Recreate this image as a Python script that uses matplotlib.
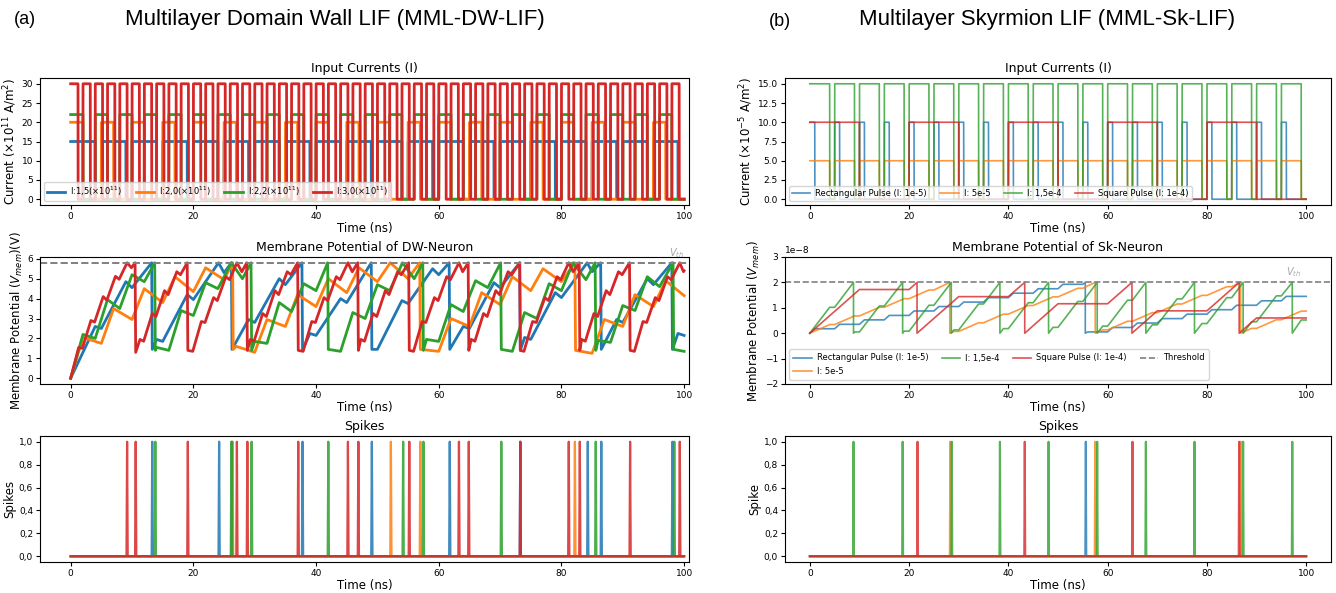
import numpy as np
import matplotlib
matplotlib.use('Agg')
import matplotlib.pyplot as plt
from matplotlib.ticker import FuncFormatter

plt.rcParams['font.family'] = 'DejaVu Sans'

colors = ['#1f77b4', '#ff7f0e', '#2ca02c', '#d62728']

# ---------------- (a) domain wall LIF ----------------
# input square pulses: level (x1e11 A/m2), period (ns), on-width (ns)
dw_labels = ['I:1,5(×10$^{11}$)', 'I:2,0(×10$^{11}$)', 'I:2,2(×10$^{11}$)', 'I:3,0(×10$^{11}$)']
dw_levels = [15, 20, 22, 30]
dw_periods = [5, 5, 4, 2]
dw_widths = [4, 2, 2, 1.2]

# membrane potential vertices (ns, V)
dw_blue_t = [0, 4, 5, 9, 10, 13.2, 13.3, 14, 15, 19, 20, 24.1, 25, 26.2, 26.3, 29, 30, 34, 35, 37.7, 37.8,
             39, 40, 44, 45, 49, 49.1, 50, 54, 55, 59, 60, 61.7, 61.8, 64, 65, 69, 70, 73.2, 73.3, 74, 75,
             79, 80, 84.2, 85, 86.4, 86.5, 89, 90, 94, 95, 98, 98.1, 99, 100]
dw_blue_v = [0, 2.6, 2.5, 4.85, 4.55, 5.8, 1.45, 1.95, 1.85, 4.2, 3.95, 5.8, 5.3, 5.8, 1.45, 2.95, 2.8, 5.0, 4.7, 5.8, 1.4,
             2.25, 2.15, 4.0, 3.8, 5.8, 1.45, 1.45, 3.9, 3.75, 5.5, 5.2, 5.8, 1.45, 2.6, 2.5, 4.8, 4.55, 5.8, 1.4, 2.05, 1.95,
             4.3, 4.05, 5.8, 5.35, 5.8, 1.45, 2.95, 2.8, 5.0, 4.7, 5.8, 1.45, 2.25, 2.15]
dw_orange_t = [0, 2, 5, 7, 10, 12, 15, 17, 20, 22, 25, 26.4, 26.5, 27, 30, 32, 35, 37, 40, 42, 45, 47, 50, 52.1,
               55, 56.9, 57.0, 60, 62, 65, 67, 70, 72, 75, 77, 80, 82.2, 82.3, 85, 87, 90, 92, 95, 97, 100]
dw_orange_v = [0, 2.05, 1.75, 3.5, 2.95, 4.5, 3.8, 5.1, 4.35, 5.55, 4.95, 5.8, 1.45, 1.6, 1.3, 2.95, 2.6, 4.2, 3.6, 5.0,
               4.3, 5.55, 4.85, 5.8, 5.0, 5.8, 1.45, 1.35, 3.0, 2.6, 4.3, 3.7, 5.1, 4.4, 5.5, 4.85, 5.8, 1.4, 1.25,
               2.95, 2.6, 4.2, 3.6, 4.9, 4.15]
dw_green_t = [0, 2, 4, 6, 8, 10, 12, 13.7, 13.8, 14, 16, 18, 20, 22, 24, 26.2, 28, 29.4, 29.5, 30, 32, 34, 36, 38,
              40, 41.9, 42, 44, 46, 48, 50, 52, 54.1, 56, 57.4, 57.5, 58, 60, 62, 64, 66, 68, 70.1, 70.2, 72, 74,
              76, 78, 80, 81.9, 84, 85.5, 85.6, 86, 88, 90, 92, 94, 96, 98.2, 98.3, 100]
dw_green_v = [0, 2.2, 2.0, 3.95, 3.5, 5.2, 4.85, 5.8, 1.4, 1.55, 1.4, 3.4, 3.15, 4.8, 4.5, 5.8, 5.0, 5.8, 1.4, 1.85,
              1.75, 3.8, 3.35, 4.75, 4.4, 5.8, 1.45, 1.35, 3.3, 3.0, 4.7, 4.4, 5.8, 5.0, 5.8, 1.4, 1.95, 1.85, 3.7,
              3.35, 4.9, 4.55, 5.8, 1.45, 1.35, 3.3, 3.0, 4.75, 4.4, 5.8, 4.95, 5.8, 1.4, 1.9, 1.8, 3.65, 3.4, 5.1,
              4.6, 5.8, 1.45, 1.35]
dw_red_t = [0, 1.3, 1.9, 3.3, 3.9, 5.3, 5.9, 7.3, 7.9, 9.2, 9.9, 10.5, 10.6,
            11.3, 11.9, 13.3, 13.9, 15.3, 15.9, 17.3, 17.9, 19.0, 19.1,
            19.9, 21.3, 21.9, 23.3, 23.9, 25.3, 25.9, 27.1, 27.9, 28.7, 28.8,
            29.3, 29.9, 31.3, 31.9, 33.3, 33.9, 35.3, 35.9, 37.0, 37.1,
            37.9, 39.3, 39.9, 41.3, 41.9, 43.3, 43.9, 45.2, 45.9, 46.8, 46.9,
            47.3, 47.9, 49.3, 49.9, 51.3, 51.9, 53.3, 53.9, 55.1, 55.2,
            55.9, 57.3, 57.9, 59.3, 59.9, 61.3, 61.9, 63.3, 63.9, 64.8, 64.9,
            65.3, 65.9, 67.3, 67.9, 69.3, 69.9, 71.3, 71.9, 73.2, 73.3,
            73.9, 75.3, 75.9, 77.3, 77.9, 79.3, 79.9, 81.2, 81.9, 82.9, 83.0,
            83.3, 83.9, 85.3, 85.9, 87.3, 87.9, 89.3, 89.9, 91.1, 91.2,
            91.9, 93.3, 93.9, 95.3, 95.9, 97.3, 97.9, 99.3, 99.9, 100]
dw_red_v = [0, 1.55, 1.5, 2.9, 2.82, 4.1, 3.92, 5.12, 4.97, 5.8, 5.55, 5.8, 1.3,
            1.95, 1.86, 3.25, 3.1, 4.4, 4.2, 5.35, 5.2, 5.8, 1.4,
            1.35, 2.85, 2.8, 4.05, 3.9, 5.1, 4.95, 5.8, 5.35, 5.8, 1.4,
            1.95, 1.86, 3.25, 3.1, 4.4, 4.2, 5.35, 5.2, 5.8, 1.4,
            1.35, 2.85, 2.8, 4.05, 3.9, 5.1, 4.95, 5.8, 5.35, 5.8, 1.4,
            1.95, 1.86, 3.25, 3.1, 4.4, 4.2, 5.35, 5.2, 5.8, 1.4,
            1.35, 2.85, 2.8, 4.05, 3.9, 5.1, 4.95, 5.8, 5.35, 5.8, 1.4,
            1.95, 1.86, 3.25, 3.1, 4.4, 4.2, 5.35, 5.2, 5.8, 1.4,
            1.35, 2.85, 2.8, 4.05, 3.9, 5.1, 4.95, 5.8, 5.35, 5.8, 1.4,
            1.95, 1.86, 3.25, 3.1, 4.4, 4.2, 5.35, 5.2, 5.8, 1.4,
            1.35, 2.85, 2.8, 4.05, 3.9, 5.1, 4.95, 5.8, 5.35, 5.4]
dw_vth = 5.8

# spike times (ns)
dw_spk_blue = [13.3, 24.2, 26.3, 37.8, 49.1, 61.8, 73.3, 84.3, 86.5, 98.1]
dw_spk_orange = [26.4, 52.2, 57.0, 82.2]
dw_spk_green = [13.8, 26.2, 29.5, 42.0, 54.2, 57.5, 70.2, 85.6, 98.4]
dw_spk_red = [9.2, 10.6, 19.1, 27.1, 28.8, 37.1, 45.2, 46.9, 55.2, 63.3, 64.9, 73.3, 81.2, 83.0, 91.2, 99.3]

# ---------------- (b) skyrmion LIF ----------------
sk_labels = ['Rectangular Pulse (I: 1e-5)', 'I: 5e-5', 'I: 1,5e-4', 'Square Pulse (I: 1e-4)']
sk_levels = [10, 5, 15, 10]
sk_periods = [5, 5, 5, 20]
sk_widths = [1, 4, 4, 10]

sk_blue_t = [0, 1, 5, 6, 10, 11, 15, 16, 20, 21, 25, 26, 30, 31, 35, 36, 40, 41, 45, 46, 50, 51, 55, 55.5, 55.5,
             56, 60, 61, 65, 66, 70, 71, 75, 76, 80, 81, 85, 86, 90, 91, 95, 96, 100]
sk_blue_v = [0, .175, .175, .35, .35, .525, .525, .70, .70, .875, .875, 1.05, 1.05, 1.225, 1.225, 1.40, 1.40, 1.575,
             1.575, 1.75, 1.75, 1.925, 1.925, 2.0, 0.0, 0.05, 0.05, 0.225, 0.225, 0.40, 0.40, 0.575, 0.575, 0.75,
             0.75, 0.925, 0.925, 1.10, 1.10, 1.275, 1.275, 1.45, 1.45]
sk_orange_t = [0, 4, 5, 9, 10, 14, 15, 19, 20, 24, 25, 28.2, 28.2, 29, 30, 34, 35, 39, 40, 44, 45, 49, 50, 54, 55,
               57.5, 57.5, 59, 60, 64, 65, 69, 70, 74, 75, 79, 80, 84, 85, 86.8, 86.8, 89, 90, 94, 95, 99, 100]
sk_orange_v = [0, .34, .34, .68, .68, 1.02, 1.02, 1.36, 1.36, 1.70, 1.70, 2.0, 0.0, 0.07, 0.07, 0.41, 0.41, 0.75,
               0.75, 1.09, 1.09, 1.43, 1.43, 1.77, 1.77, 2.0, 0.0, 0.13, 0.13, 0.47, 0.47, 0.81, 0.81, 1.15, 1.15,
               1.49, 1.49, 1.83, 1.83, 2.0, 0.0, 0.19, 0.19, 0.53, 0.53, 0.87, 0.87]
sk_green_t = [0, 4, 5, 8.8, 8.8, 9, 10, 14, 15, 18.7, 18.7, 19, 20, 24, 25, 28.5, 28.5, 29, 30, 34, 35, 38.3, 38.3,
              39, 40, 44, 45, 48.1, 48.1, 49, 50, 54, 55, 57.9, 57.9, 59, 60, 64, 65, 67.7, 67.7, 69, 70, 74, 75,
              77.5, 77.5, 79, 80, 84, 85, 87.3, 87.3, 89, 90, 94, 95, 97.2, 97.2, 99, 100]
sk_green_v = [0, 1.02, 1.02, 2.0, 0, 0.05, 0.05, 1.07, 1.07, 2.0, 0, 0.08, 0.08, 1.10, 1.10, 2.0, 0, 0.13, 0.13,
              1.15, 1.15, 2.0, 0, 0.18, 0.18, 1.20, 1.20, 2.0, 0, 0.23, 0.23, 1.25, 1.25, 2.0, 0, 0.28, 0.28, 1.30,
              1.30, 2.0, 0, 0.33, 0.33, 1.35, 1.35, 2.0, 0, 0.38, 0.38, 1.40, 1.40, 2.0, 0, 0.45, 0.45, 1.47, 1.47,
              2.0, 0, 0.52, 0.52]
sk_red_t = [0, 10, 20, 21.6, 21.6, 30, 40, 43.3, 43.3, 50, 60, 64.9, 64.9, 70, 80, 86.5, 86.5, 90, 100]
sk_red_v = [0, 1.72, 1.72, 2.0, 0, 1.44, 1.44, 2.0, 0, 1.16, 1.16, 2.0, 0, 0.88, 0.88, 2.0, 0, 0.60, 0.60]
sk_vth = 2.0

sk_spk_blue = [55.6]
sk_spk_orange = [28.3, 57.5, 86.8]
sk_spk_green = [8.8, 18.7, 28.6, 38.3, 48.1, 57.9, 67.7, 77.5, 87.3, 97.2]
sk_spk_red = [21.7, 43.3, 65.0, 86.5]

# ---------------- helpers ----------------
t_in = np.linspace(0, 100, 20001)
t_spk = np.arange(0, 1001) * 0.1


def pulses(level, period, width):
    on = ((t_in % period) < width - 1e-9) & (t_in < 100 - 1e-9)
    return np.where(on, level, 0.0)


def spikes(times):
    y = np.zeros_like(t_spk)
    y[np.round(np.array(times) * 10).astype(int)] = 1.0
    return y


comma = FuncFormatter(lambda v, p: f'{v:.1f}'.replace('.', ','))

W, H = 1336, 593
fig = plt.figure(figsize=(W / 100, H / 100), dpi=100)


def rect(x0, x1, ytop, ybot):
    return [x0 / W, 1 - ybot / H, (x1 - x0) / W, (ybot - ytop) / H]


rows = [(78, 205), (257, 384), (436, 562)]
axL = [fig.add_axes(rect(40, 689, a, b)) for a, b in rows]
axR = [fig.add_axes(rect(785, 1331, a, b)) for a, b in rows]

tick_fs, lab_fs, tit_fs = 6.5, 8.5, 9
leg_kw = dict(loc='lower left', ncol=4, fontsize=6, handlelength=2.2, columnspacing=1.6,
              borderpad=0.35, handletextpad=0.6)

# --- (a) input currents
ax = axL[0]
for lab, lv, pr, wd, c in zip(dw_labels, dw_levels, dw_periods, dw_widths, colors):
    ax.plot(t_in, pulses(lv, pr, wd), color=c, lw=2, label=lab)
ax.set_yticks([0, 5, 10, 15, 20, 25, 30])
ax.set_title('Input Currents (I)', fontsize=tit_fs, pad=4)
ax.set_ylabel('Current ($\\times10^{11}$ A/m$^2$)', fontsize=lab_fs, labelpad=2)
ax.legend(**leg_kw)

# --- (a) membrane potential
ax = axL[1]
for tt, vv, c in zip([dw_blue_t, dw_orange_t, dw_green_t, dw_red_t],
                     [dw_blue_v, dw_orange_v, dw_green_v, dw_red_v], colors):
    ax.plot(tt, vv, color=c, lw=2)
ax.axhline(dw_vth, color='gray', ls='--', lw=1.4)
ax.text(98.7, 5.92, '$V_{th}$', color='gray', fontsize=7, ha='center', va='bottom', alpha=0.7)
ax.set_ylim(-0.29, 6.09)
ax.set_yticks([0, 1, 2, 3, 4, 5, 6])
ax.set_title('Membrane Potential of DW-Neuron', fontsize=tit_fs, pad=4)
ax.set_ylabel('Membrane Potential ($V_{mem}$)(V)', fontsize=lab_fs, labelpad=2)

# --- (a) spikes
ax = axL[2]
for sp, c in zip([dw_spk_blue, dw_spk_orange, dw_spk_green, dw_spk_red], colors):
    ax.plot(t_spk, spikes(sp), color=c, lw=1.6, alpha=0.85)
ax.set_ylim(-0.05, 1.05)
ax.yaxis.set_major_formatter(comma)
ax.set_title('Spikes', fontsize=tit_fs, pad=4)
ax.set_ylabel('Spikes', fontsize=lab_fs, labelpad=2)

for ax in axL:
    ax.set_xlim(-5, 100.8)

# --- (b) input currents
ax = axR[0]
for lab, lv, pr, wd, c in zip(sk_labels, sk_levels, sk_periods, sk_widths, colors):
    ax.plot(t_in, pulses(lv, pr, wd), color=c, lw=1.2, alpha=0.8, label=lab)
ax.set_yticks([0, 2.5, 5, 7.5, 10, 12.5, 15])
ax.set_title('Input Currents (I)', fontsize=tit_fs, pad=4)
ax.set_ylabel('Current ($\\times10^{-5}$ A/m$^2$)', fontsize=lab_fs, labelpad=2)
ax.legend(**leg_kw)

# --- (b) membrane potential
ax = axR[1]
for tt, vv, c, lab in zip([sk_blue_t, sk_orange_t, sk_green_t, sk_red_t],
                          [sk_blue_v, sk_orange_v, sk_green_v, sk_red_v], colors, sk_labels):
    ax.plot(tt, np.array(vv) * 1e-8, color=c, lw=1.2, alpha=0.8, label=lab)
ax.axhline(sk_vth * 1e-8, color='gray', ls='--', lw=1.2, label='Threshold')
ax.text(97.5, 2.12e-8, '$V_{th}$', color='gray', fontsize=7, ha='center', va='bottom', alpha=0.7)
ax.set_ylim(-2e-8, 3e-8)
ax.set_title('Membrane Potential of Sk-Neuron', fontsize=tit_fs, pad=4)
ax.set_ylabel('Membrane Potential ($V_{mem}$)', fontsize=lab_fs, labelpad=2)
ax.legend(**dict(leg_kw, borderpad=0.5))

# --- (b) spikes
ax = axR[2]
for sp, c in zip([sk_spk_blue, sk_spk_orange, sk_spk_green, sk_spk_red], colors):
    ax.plot(t_spk, spikes(sp), color=c, lw=1.5, alpha=0.8)
ax.set_ylim(-0.05, 1.05)
ax.yaxis.set_major_formatter(comma)
ax.set_title('Spikes', fontsize=tit_fs, pad=4)
ax.set_ylabel('Spike', fontsize=lab_fs, labelpad=2)

for ax in axR:
    ax.set_xlim(-5, 105)

for ax in axL + axR:
    ax.set_xticks([0, 20, 40, 60, 80, 100])
    ax.tick_params(labelsize=tick_fs, length=3, pad=2)
    ax.yaxis.get_offset_text().set_fontsize(tick_fs)
    ax.set_xlabel('Time (ns)', fontsize=lab_fs, labelpad=1)

# panel headings
fig.text(25 / W, 1 - 20 / H, '(a)', fontsize=13, family='Liberation Sans', ha='center', va='center')
fig.text(335 / W, 1 - 20 / H, 'Multilayer Domain Wall LIF (MML-DW-LIF)', fontsize=16,
         family='Liberation Sans', ha='center', va='center')
fig.text(780 / W, 1 - 22 / H, '(b)', fontsize=13, family='Liberation Sans', ha='center', va='center')
fig.text(1047 / W, 1 - 20 / H, 'Multilayer Skyrmion LIF (MML-Sk-LIF)', fontsize=16,
         family='Liberation Sans', ha='center', va='center')

fig.savefig('out.png', dpi=100)
